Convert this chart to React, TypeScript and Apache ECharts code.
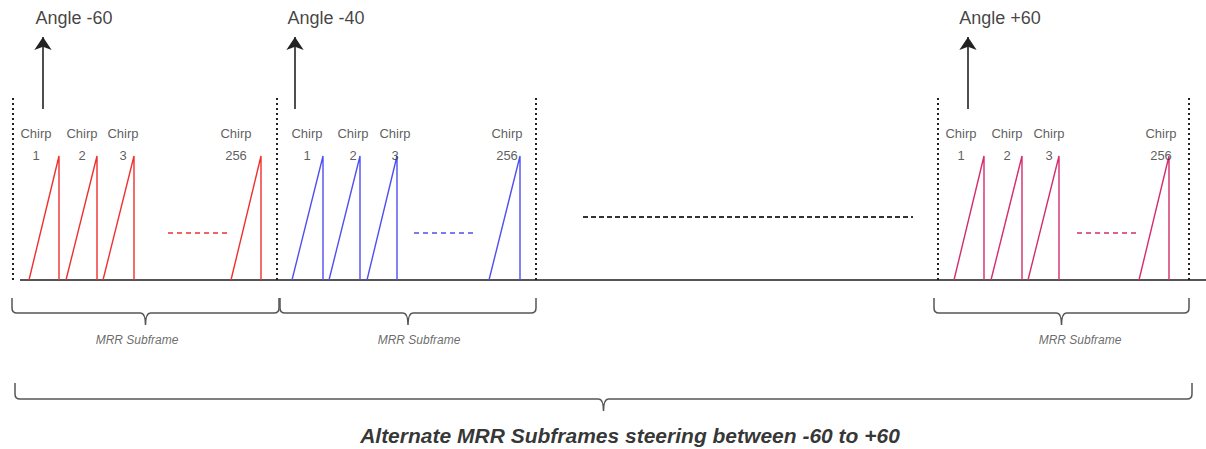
import React, { useEffect, useRef } from "react";
import * as echarts from "echarts";

// ---- data (diagram coordinates in the picture's own units) ----
const angleLabels = ["Angle -60", "Angle -40", "Angle +60"];
const angleLabelX = [74, 326, 1000];
const arrowX = [43, 295, 968];
const subframeColors = ["#ee3030", "#4f4ff0", "#d42c6c"];
const chirpNames = ["1", "2", "3", "256"];
const chirpStartX = [
  [29, 66, 103, 231],
  [292, 329, 367, 489],
  [954, 991, 1028, 1139],
];
const chirpPeakX = [
  [59, 97, 134, 261],
  [323, 360, 397, 520],
  [984, 1022, 1059, 1169],
];
const chirpLabelX = [
  [36, 82, 123, 236],
  [307, 353, 395, 507],
  [961, 1007, 1049, 1161],
];
const gapDashFrom = [168, 414, 1077];
const gapDashTo = [228, 474, 1138];
const boundaryX = [13, 277, 536, 938, 1189];
const braceFrom = [12, 280, 934];
const braceTo = [279, 536, 1189];
const subframeLabelX = [137, 419, 1080];
const subframeLabel = "MRR Subframe";
const overallBrace = [15, 1192];
const titleText = "Alternate MRR Subframes steering between -60 to +60";
const middleDash = [583, 913];

const BASE_Y = 280;
const PEAK_Y = 156;
const FONT = "'Liberation Sans', Arial, sans-serif";

export default function App() {
  const ref = useRef<HTMLDivElement>(null);
  useEffect(() => {
    if (!ref.current) return;
    const chart = echarts.init(ref.current, null, { renderer: "svg" });

    const chirpSeries = subframeColors.map((color, s) => ({
      type: "lines",
      coordinateSystem: "cartesian2d",
      polyline: true,
      silent: true,
      lineStyle: { color, width: 1.4, opacity: 1 },
      data: chirpStartX[s].map((x0, i) => ({
        coords: [
          [x0, BASE_Y],
          [chirpPeakX[s][i], PEAK_Y],
          [chirpPeakX[s][i], BASE_Y],
        ],
      })),
      z: 3,
    }));

    const gapSeries = subframeColors.map((color, s) => ({
      type: "lines",
      coordinateSystem: "cartesian2d",
      silent: true,
      lineStyle: { color, width: 1.6, type: [5, 4], opacity: 1 },
      data: [{ coords: [[gapDashFrom[s], 233], [gapDashTo[s], 233]] }],
    }));

    const braces = braceFrom.map((x, i) => [x, braceTo[i], 298, 313, 325]);
    braces.push([overallBrace[0], overallBrace[1], 383, 399, 411]);

    const textItems: any[] = [];
    chirpLabelX.forEach((row, s) =>
      row.forEach((x, i) => {
        textItems.push({ value: [x, 133], label: { formatter: "Chirp" } });
        textItems.push({ value: [x, 155], label: { formatter: chirpNames[i] } });
      })
    );
    angleLabels.forEach((t, i) =>
      textItems.push({
        value: [angleLabelX[i], 18],
        label: { formatter: t, fontSize: 18, color: "#111" },
      })
    );
    subframeLabelX.forEach((x) =>
      textItems.push({
        value: [x, 340],
        label: { formatter: subframeLabel, fontSize: 12, fontStyle: "italic", color: "#444" },
      })
    );
    textItems.push({
      value: [630, 435],
      label: {
        formatter: titleText,
        fontSize: 21,
        fontWeight: "bold",
        fontStyle: "italic",
        color: "#000",
      },
    });

    const option: any = {
      animation: false,
      backgroundColor: "#ffffff",
      grid: { left: 0, right: 0, top: 0, bottom: 0, containLabel: false },
      xAxis: { type: "value", min: 0, max: 1206, show: false },
      yAxis: { type: "value", min: 0, max: 449, inverse: true, show: false },
      series: [
        {
          type: "lines",
          coordinateSystem: "cartesian2d",
          silent: true,
          lineStyle: { color: "#555", width: 2, opacity: 1 },
          data: [{ coords: [[20, BASE_Y], [1206, BASE_Y]] }],
          z: 2,
        },
        {
          type: "lines",
          coordinateSystem: "cartesian2d",
          silent: true,
          lineStyle: { color: "#222", width: 2, type: [2, 3], opacity: 1 },
          data: boundaryX.map((x) => ({ coords: [[x, 98], [x, BASE_Y]] })),
        },
        {
          type: "lines",
          coordinateSystem: "cartesian2d",
          silent: true,
          lineStyle: { color: "#333", width: 2, type: [5, 3], opacity: 1 },
          data: [{ coords: [[middleDash[0], 217], [middleDash[1], 217]] }],
        },
        {
          type: "lines",
          coordinateSystem: "cartesian2d",
          silent: true,
          symbol: ["none", "arrow"],
          symbolSize: [11, 13],
          lineStyle: { color: "#222", width: 1.6, opacity: 1 },
          data: arrowX.map((x) => ({ coords: [[x, 109], [x, 37]] })),
        },
        ...chirpSeries,
        ...gapSeries,
        {
          type: "custom",
          silent: true,
          encode: { x: [0, 1], y: [2, 3, 4] },
          data: braces,
          renderItem: (params: any, api: any) => {
            const x1 = api.value(0);
            const x2 = api.value(1);
            const yTop = api.value(2);
            const yH = api.value(3);
            const yTip = api.value(4);
            const m = (x1 + x2) / 2;
            const c = (x: number, y: number) => api.coord([x, y]);
            const r = 5;
            const P = [
              c(x1, yTop),
              c(x1, yH - r),
              c(x1, yH),
              c(x1 + r, yH),
              c(m - r, yH),
              c(m, yH),
              c(m, yTip),
              c(m + r, yH),
              c(x2 - r, yH),
              c(x2, yH),
              c(x2, yH - r),
              c(x2, yTop),
            ];
            const f = (p: number[]) => `${p[0]} ${p[1]}`;
            const d =
              `M${f(P[0])} L${f(P[1])} Q${f(P[2])} ${f(P[3])} L${f(P[4])} ` +
              `Q${f(P[5])} ${f(P[6])} Q${f(P[5])} ${f(P[7])} L${f(P[8])} ` +
              `Q${f(P[9])} ${f(P[10])} L${f(P[11])}`;
            return {
              type: "path",
              shape: { pathData: d },
              style: { stroke: "#555", fill: "none", lineWidth: 1.5 },
            };
          },
        },
        {
          type: "scatter",
          silent: true,
          symbolSize: 0,
          itemStyle: { color: "transparent" },
          label: {
            show: true,
            position: "inside",
            fontFamily: FONT,
            fontSize: 13,
            color: "#333",
          },
          data: textItems,
          z: 5,
        },
      ],
    };
    chart.setOption(option);
    return () => chart.dispose();
  }, []);
  return (
    <div
      ref={ref}
      style={{ position: "absolute", left: 0, top: 0, width: 1206, height: 449, background: "#fff" }}
    />
  );
}
